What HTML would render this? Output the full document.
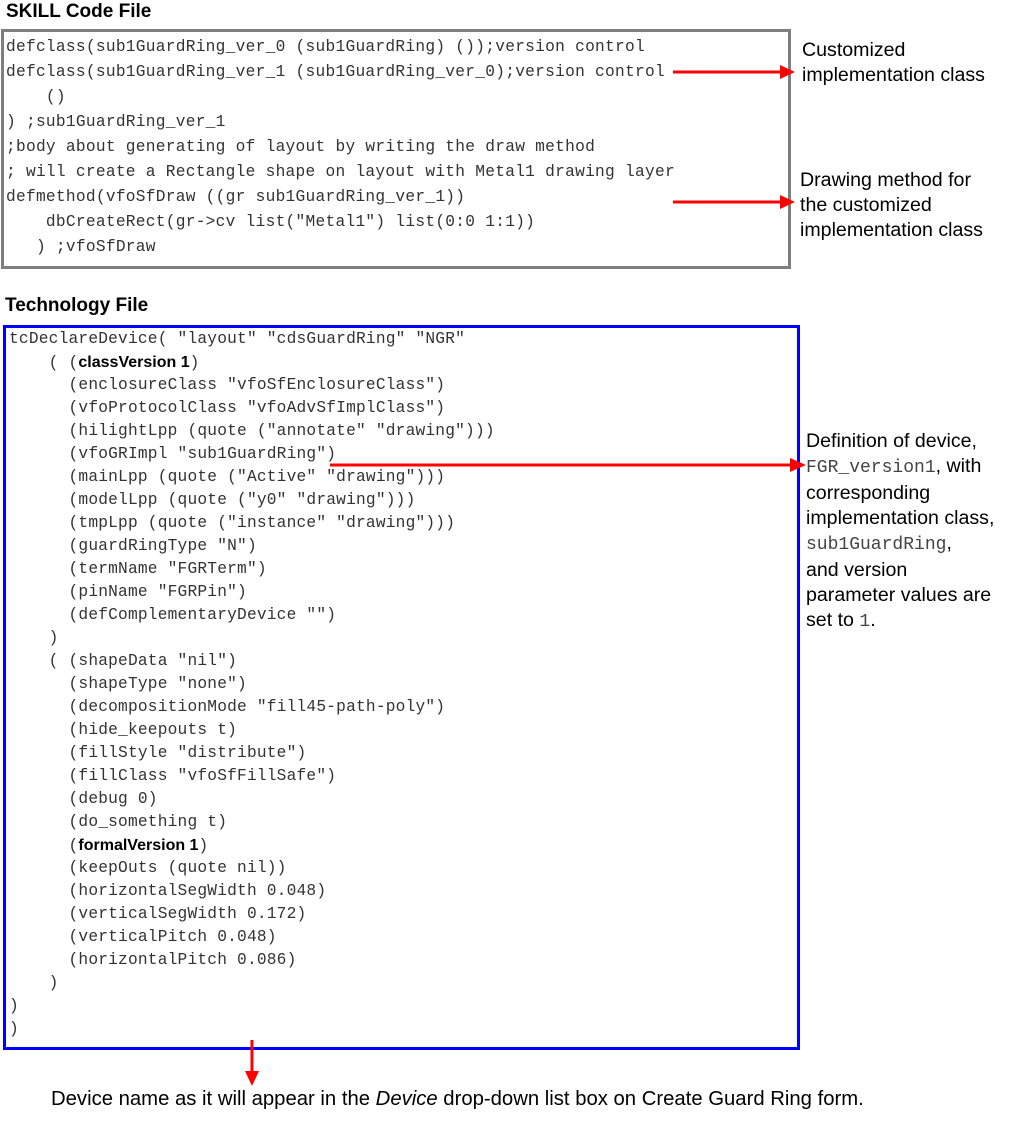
<!DOCTYPE html>
<html><head><meta charset="utf-8"><style>
html,body{margin:0;padding:0;overflow:hidden}
body{width:1013px;height:1126px;background:#fff;position:relative;font-family:"Liberation Sans",sans-serif;color:#000}
.h{position:absolute;font-weight:bold;font-size:19px}
.box{position:absolute;box-sizing:border-box}
.code{position:absolute;font-family:"Liberation Mono",monospace;font-size:16.2px;color:#333;letter-spacing:0.27px}
.code div{height:25px;line-height:25px;white-space:pre}
.t div{height:23px;line-height:23px}
.t{letter-spacing:0.2px}
.code b{font-family:"Liberation Sans",sans-serif;font-weight:bold;color:#000;font-size:16px;letter-spacing:0}
.ann{position:absolute;font-size:19.6px;line-height:25px;color:#000;white-space:nowrap}
.ann span{font-family:"Liberation Mono",monospace;color:#444;font-size:18px}
</style></head><body>
<div class="h" style="left:6px;top:1px">SKILL Code File</div>
<div class="box" style="left:1px;top:29px;width:790px;height:240px;border:3px solid #7f7f7f"></div>
<div class="code" style="left:6px;top:35px"><div>defclass(sub1GuardRing_ver_0 (sub1GuardRing) ());version control</div><div>defclass(sub1GuardRing_ver_1 (sub1GuardRing_ver_0);version control</div><div>    ()</div><div>) ;sub1GuardRing_ver_1</div><div>;body about generating of layout by writing the draw method</div><div>; will create a Rectangle shape on layout with Metal1 drawing layer</div><div>defmethod(vfoSfDraw ((gr sub1GuardRing_ver_1))</div><div>    dbCreateRect(gr->cv list("Metal1") list(0:0 1:1))</div><div>   ) ;vfoSfDraw</div></div>
<div class="ann" style="left:802px;top:38px">Customized<br>implementation class</div>
<div class="ann" style="left:800px;top:168px">Drawing method for<br>the customized<br>implementation class</div>

<div class="h" style="left:5px;top:295px">Technology File</div>
<div class="box" style="left:3px;top:325px;width:797px;height:725px;border:3px solid #0000ff"></div>
<div class="code t" style="left:9px;top:328px"><div>tcDeclareDevice( "layout" "cdsGuardRing" "NGR"</div><div>    ( (<b>classVersion 1</b>)</div><div>      (enclosureClass "vfoSfEnclosureClass")</div><div>      (vfoProtocolClass "vfoAdvSfImplClass")</div><div>      (hilightLpp (quote ("annotate" "drawing")))</div><div>      (vfoGRImpl "sub1GuardRing")</div><div>      (mainLpp (quote ("Active" "drawing")))</div><div>      (modelLpp (quote ("y0" "drawing")))</div><div>      (tmpLpp (quote ("instance" "drawing")))</div><div>      (guardRingType "N")</div><div>      (termName "FGRTerm")</div><div>      (pinName "FGRPin")</div><div>      (defComplementaryDevice "")</div><div>    )</div><div>    ( (shapeData "nil")</div><div>      (shapeType "none")</div><div>      (decompositionMode "fill45-path-poly")</div><div>      (hide_keepouts t)</div><div>      (fillStyle "distribute")</div><div>      (fillClass "vfoSfFillSafe")</div><div>      (debug 0)</div><div>      (do_something t)</div><div>      (<b>formalVersion 1</b>)</div><div>      (keepOuts (quote nil))</div><div>      (horizontalSegWidth 0.048)</div><div>      (verticalSegWidth 0.172)</div><div>      (verticalPitch 0.048)</div><div>      (horizontalPitch 0.086)</div><div>    )</div><div>)</div><div>)</div></div>
<div class="ann" style="left:806px;top:429px">Definition of device,<br><span>FGR_version1</span>, with<br>corresponding<br>implementation class,<br><span>sub1GuardRing</span>,<br>and version<br>parameter values are<br>set to <span>1</span>.</div>
<div class="ann" style="left:51px;top:1087px;font-size:20.3px">Device name as it will appear in the <i>Device</i> drop-down list box on Create Guard Ring form.</div>

<svg width="1013" height="1126" style="position:absolute;left:0;top:0">
<g stroke="#ff0000" stroke-width="3" fill="none">
<line x1="673" y1="72" x2="782" y2="72"/>
<line x1="673" y1="202" x2="782" y2="202"/>
<line x1="330" y1="465" x2="792" y2="465"/>
<line x1="252" y1="1040" x2="252" y2="1073"/>
</g>
<g fill="#ff0000">
<polygon points="780,65 795,72 780,79"/>
<polygon points="780,195 795,202 780,209"/>
<polygon points="790,458 806,465 790,472"/>
<polygon points="245,1071 252,1086 259,1071"/>
</g>
</svg>
</body></html>
